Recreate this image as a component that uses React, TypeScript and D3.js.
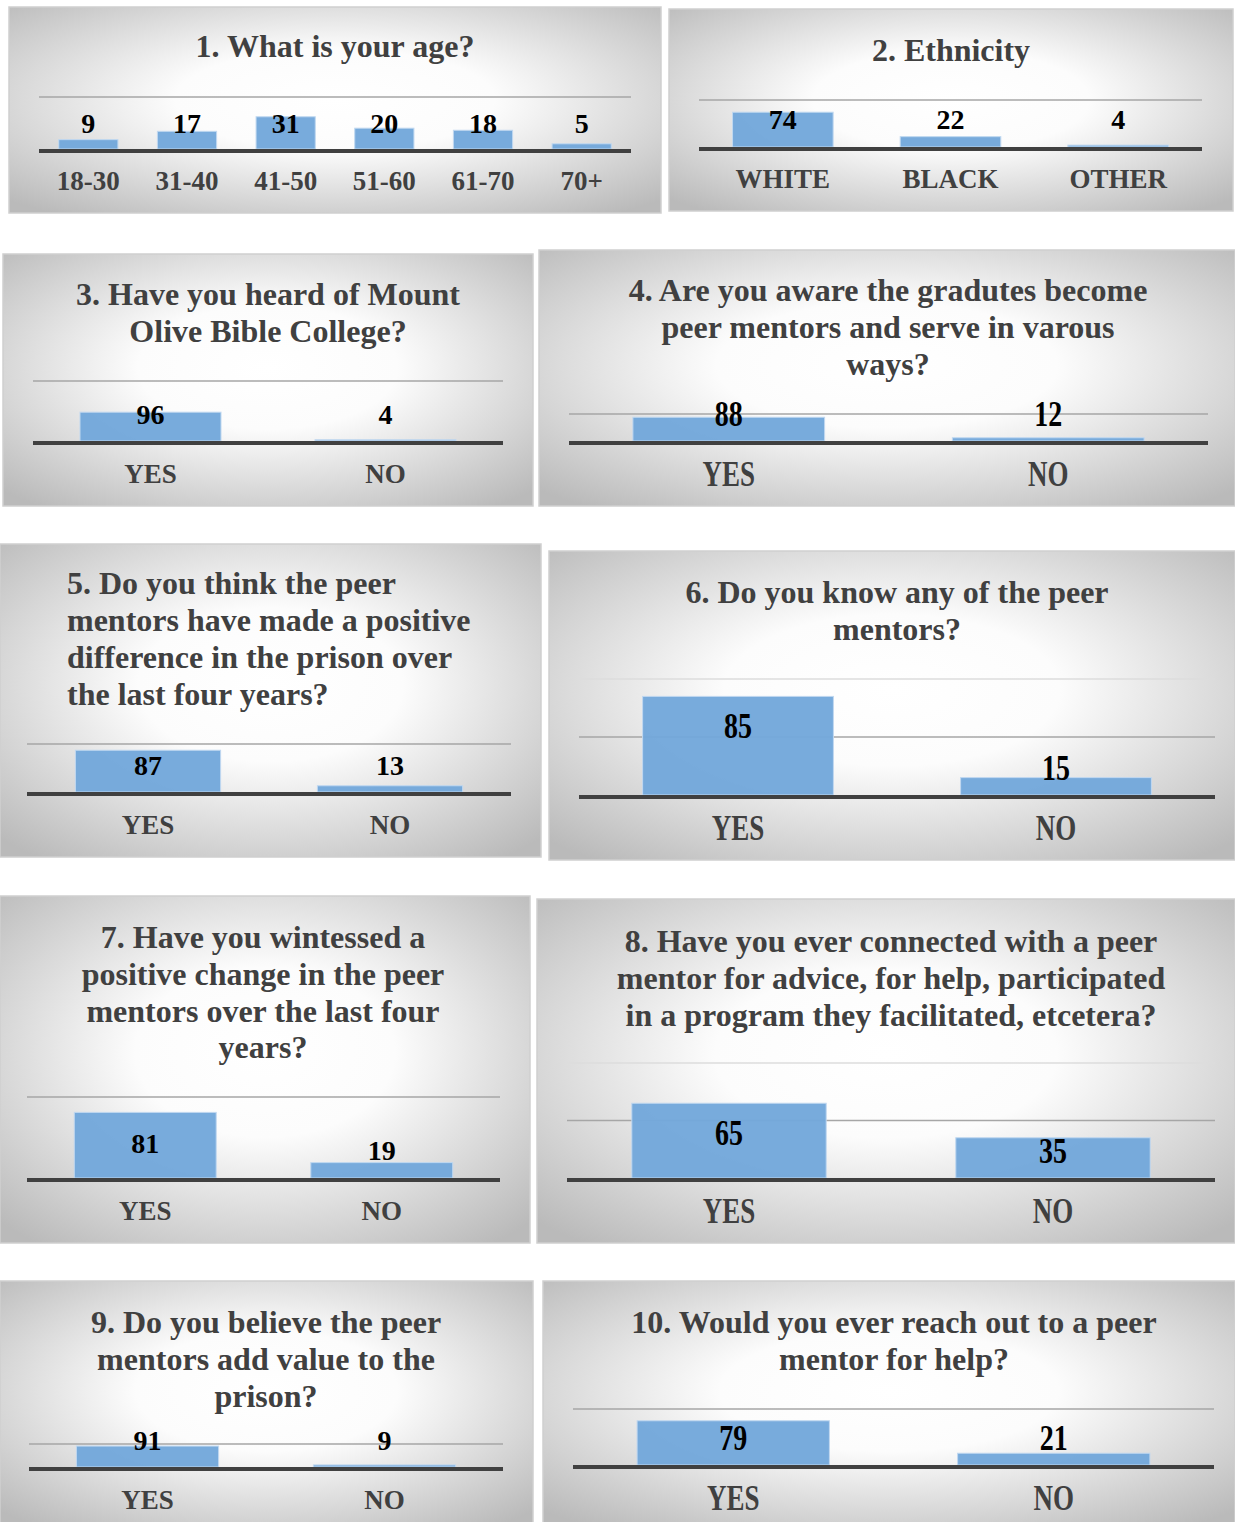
import React from "react";
import * as d3 from "d3";

// ---------- DATA ----------
const ageCategories = ["18-30", "31-40", "41-50", "51-60", "61-70", "70+"];
const ageValues = [9, 17, 31, 20, 18, 5];
const ethnicityCategories = ["WHITE", "BLACK", "OTHER"];
const ethnicityValues = [74, 22, 4];
const yesNoCategories = ["YES", "NO"];
const q3Values = [96, 4];
const q4Values = [88, 12];
const q5Values = [87, 13];
const q6Values = [85, 15];
const q7Values = [81, 19];
const q8Values = [65, 35];
const q9Values = [91, 9];
const q10Values = [79, 21];

const title1 = ["1. What is your age?"];
const title2 = ["2. Ethnicity"];
const title3 = ["3. Have you heard of Mount", "Olive Bible College?"];
const title4 = ["4. Are you aware the gradutes become", "peer mentors and serve in varous", "ways?"];
const title5 = ["5. Do you think the peer", "mentors have made a positive", "difference in the prison over", "the last four years?"];
const title6 = ["6. Do you know any of the peer", "mentors?"];
const title7 = ["7. Have you wintessed a", "positive change in the peer", "mentors over the last four", "years?"];
const title8 = ["8. Have you ever connected with a peer", "mentor for advice, for help, participated", "in a program they facilitated, etcetera?"];
const title9 = ["9. Do you believe the peer", "mentors add value to the", "prison?"];
const title10 = ["10. Would you ever reach out to a peer", "mentor for help?"];

// ---------- LAYOUT (positions / styles only) ----------
type Layout = {
  box: [number, number, number, number];
  plotX: [number, number];
  baseY: number;
  topY: number;
  yMax: number;
  grid: number[];
  labelY: number[] | number;
  catY: number;
  titleX: number;
  titleY: number[];
  anchor?: "start" | "middle";
  sy?: number;
};

const panels: { categories: string[]; values: number[]; title: string[]; layout: Layout }[] = [
  { categories: ageCategories, values: ageValues, title: title1,
    layout: { box: [9, 7, 652, 206], plotX: [39, 631], baseY: 149, topY: 97, yMax: 50, grid: [50], labelY: 123, catY: 181, titleX: 335, titleY: [46] } },
  { categories: ethnicityCategories, values: ethnicityValues, title: title2,
    layout: { box: [669, 9, 564, 202], plotX: [699, 1202], baseY: 147, topY: 100, yMax: 100, grid: [100], labelY: 119, catY: 179, titleX: 951, titleY: [50] } },
  { categories: yesNoCategories, values: q3Values, title: title3,
    layout: { box: [3, 254, 530, 252], plotX: [33, 503], baseY: 441, topY: 381, yMax: 200, grid: [200], labelY: 414, catY: 474, titleX: 268, titleY: [294, 331] } },
  { categories: yesNoCategories, values: q4Values, title: title4,
    layout: { box: [539, 250, 696, 256], plotX: [569, 1208], baseY: 441, topY: 414, yMax: 100, grid: [100], labelY: 414, catY: 474, titleX: 888, titleY: [290, 327, 364], sy: 1.3 } },
  { categories: yesNoCategories, values: q5Values, title: title5,
    layout: { box: [0, 544, 541, 313], plotX: [27, 511], baseY: 792, topY: 744, yMax: 100, grid: [100], labelY: 765, catY: 825, titleX: 67, titleY: [583, 620, 657, 694], anchor: "start" } },
  { categories: yesNoCategories, values: q6Values, title: title6,
    layout: { box: [549, 551, 686, 309], plotX: [579, 1215], baseY: 795, topY: 679, yMax: 100, grid: [50, 100], labelY: [726, 768], catY: 828, titleX: 897, titleY: [592, 629], sy: 1.3 } },
  { categories: yesNoCategories, values: q7Values, title: title7,
    layout: { box: [0, 896, 530, 347], plotX: [27, 500], baseY: 1178, topY: 1097, yMax: 100, grid: [100], labelY: [1143, 1150], catY: 1211, titleX: 263, titleY: [937, 974, 1011, 1047] } },
  { categories: yesNoCategories, values: q8Values, title: title8,
    layout: { box: [537, 899, 698, 344], plotX: [567, 1215], baseY: 1178, topY: 1063, yMax: 100, grid: [50, 100], labelY: [1133, 1151], catY: 1211, titleX: 891, titleY: [941, 978, 1015], sy: 1.3 } },
  { categories: yesNoCategories, values: q9Values, title: title9,
    layout: { box: [0, 1281, 533, 245], plotX: [29, 503], baseY: 1467, topY: 1444, yMax: 100, grid: [100], labelY: 1440, catY: 1500, titleX: 266, titleY: [1322, 1359, 1396] } },
  { categories: yesNoCategories, values: q10Values, title: title10,
    layout: { box: [543, 1281, 692, 245], plotX: [573, 1214], baseY: 1465, topY: 1409, yMax: 100, grid: [100], labelY: 1438, catY: 1498, titleX: 894, titleY: [1322, 1359], sy: 1.3 } },
];

const FONT = "'Liberation Serif', 'Times New Roman', serif";
const BAR = "#72a8db";
const TEXT = "#404040";

function Panel({ p, i }: { p: (typeof panels)[number]; i: number }) {
  const L = p.layout;
  const [bx, by, bw, bh] = L.box;
  const x = d3.scaleBand<string>().domain(p.categories).range(L.plotX).paddingInner(0.4).paddingOuter(0.2);
  const y = d3.scaleLinear().domain([0, L.yMax]).range([L.baseY, L.topY]);
  const sy = L.sy ?? 1;
  const tt = (tx: number, ty: number) => `translate(${tx},${ty}) scale(1,${sy})`;
  return (
    <g>
      <rect x={bx} y={by} width={bw} height={bh} fill={`url(#bg${i})`} stroke="#cfcfcf" strokeWidth={1.5} />
      {L.grid.map((g, k) => (
        <line key={k} x1={L.plotX[0]} x2={L.plotX[1]} y1={y(g)} y2={y(g)} stroke={g === L.yMax && L.grid.length > 1 ? "#dcdcdc" : "#a6a6a6"} strokeWidth={1.5} />
      ))}
      {p.values.map((v, k) => (
        <rect key={k} x={x(p.categories[k])} y={y(v)} width={x.bandwidth()} height={L.baseY - y(v)} fill={BAR} fillOpacity={0.96} stroke="#c0d8f0" strokeWidth={1} />
      ))}
      <line x1={L.plotX[0]} x2={L.plotX[1]} y1={L.baseY + 2} y2={L.baseY + 2} stroke="#404040" strokeWidth={4} />
      {p.values.map((v, k) => {
        const ly = Array.isArray(L.labelY) ? L.labelY[k] : L.labelY;
        return (
          <text key={k} transform={tt((x(p.categories[k]) ?? 0) + x.bandwidth() / 2, ly)} textAnchor="middle" dominantBaseline="central" fontFamily={FONT} fontWeight="bold" fontSize={28} fill="#000">
            {v}
          </text>
        );
      })}
      {p.categories.map((c, k) => (
        <text key={k} transform={tt((x(c) ?? 0) + x.bandwidth() / 2, L.catY)} textAnchor="middle" dominantBaseline="central" fontFamily={FONT} fontWeight="bold" fontSize={27} fill={TEXT}>
          {c}
        </text>
      ))}
      {p.title.map((t, k) => (
        <text key={k} x={L.titleX} y={L.titleY[k]} textAnchor={L.anchor ?? "middle"} dominantBaseline="central" fontFamily={FONT} fontWeight="bold" fontSize={32} fill={TEXT}>
          {t}
        </text>
      ))}
    </g>
  );
}

export default function App() {
  return (
    <div style={{ position: "absolute", left: 0, top: 0 }}>
      <svg width={1235} height={1522} style={{ display: "block", background: "#fff" }}>
        <defs>
          {panels.map((_, i) => (
            <radialGradient key={i} id={`bg${i}`} cx="0.5" cy="0.45" r="0.7">
              <stop offset="0" stopColor="#ffffff" />
              <stop offset="0.35" stopColor="#fcfcfc" />
              <stop offset="1" stopColor="#bababa" />
            </radialGradient>
          ))}
        </defs>
        {panels.map((p, i) => (
          <Panel key={i} p={p} i={i} />
        ))}
      </svg>
    </div>
  );
}
